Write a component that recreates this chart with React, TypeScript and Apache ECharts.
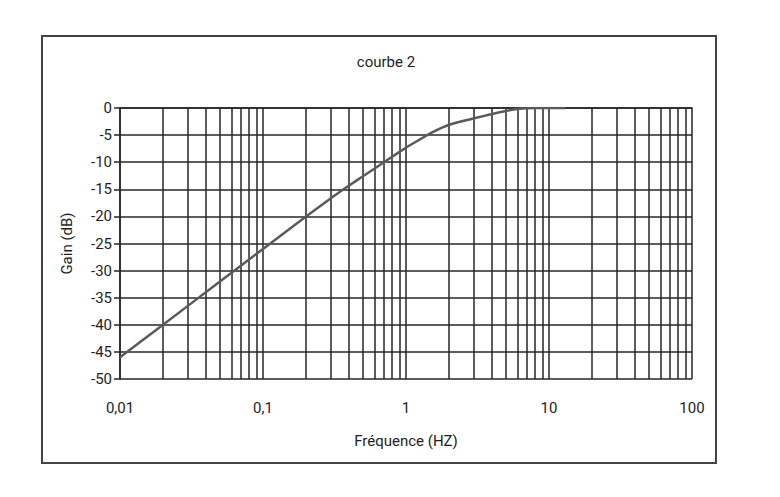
import React, { useEffect, useRef } from "react";
import * as echarts from "echarts";

const freqs = [0.01, 0.02, 0.05, 0.1, 0.2, 0.3, 0.4, 0.5, 0.6, 0.7, 0.8, 0.9, 1, 1.25, 1.5, 2, 3, 4, 5, 6, 8, 13];
const gains = [-46, -40, -32, -26, -20, -16.6, -14.3, -12.6, -11.2, -10.0, -9.0, -8.1, -7.3, -5.8, -4.6, -3.1, -1.9, -1.1, -0.55, -0.2, 0, 0];
const minorFreqs = [
  0.02, 0.03, 0.04, 0.05, 0.06, 0.07, 0.08, 0.09,
  0.2, 0.3, 0.4, 0.5, 0.6, 0.7, 0.8, 0.9,
  2, 3, 4, 5, 6, 7, 8, 9,
  20, 30, 40, 50, 60, 70, 80, 90,
];
const xTickLabels: Record<string, string> = { "0.01": "0,01", "0.1": "0,1", "1": "1", "10": "10", "100": "100" };
const titleText = "courbe 2";
const xName = "Fréquence (HZ)";
const yName = "Gain (dB)";

const FONT = "Roboto, 'DejaVu Sans', sans-serif";
const GRID = "#262626";
const TXT = "#1e1e1e";

export default function App() {
  const ref = useRef<HTMLDivElement>(null);
  useEffect(() => {
    if (!ref.current) return;
    const chart = echarts.init(ref.current, undefined, { renderer: "svg" });
    chart.setOption({
      animation: false,
      backgroundColor: "#fff",
      title: {
        text: titleText,
        left: 381,
        top: 49,
        textAlign: "center",
        textStyle: { fontFamily: FONT, fontSize: 15, fontWeight: "normal", color: TXT },
      },
      graphic: [
        {
          type: "rect",
          shape: { x: 42, y: 36, width: 674, height: 427 },
          style: { fill: "none", stroke: "#444", lineWidth: 2 },
          silent: true,
        },
      ],
      grid: { left: 120, right: 88, top: 108, bottom: 118, containLabel: false },
      xAxis: {
        type: "log",
        logBase: 10,
        min: 0.01,
        max: 100,
        name: xName,
        nameLocation: "middle",
        nameGap: 54,
        nameTextStyle: { fontFamily: FONT, fontSize: 15, color: TXT },
        axisLine: { show: true, lineStyle: { color: GRID, width: 1.5 } },
        axisTick: { show: false },
        axisLabel: {
          fontFamily: FONT,
          fontSize: 15,
          color: TXT,
          margin: 21,
          formatter: (v: number) => {
            const k = String(Number(v.toPrecision(6)));
            return xTickLabels[k] ?? k;
          },
        },
        splitLine: { show: true, lineStyle: { color: GRID, width: 1.5 } },
      },
      yAxis: {
        type: "value",
        min: -50,
        max: 0,
        interval: 5,
        name: yName,
        nameLocation: "middle",
        nameGap: 46,
        nameTextStyle: { fontFamily: FONT, fontSize: 15, color: TXT },
        axisLine: { show: true, lineStyle: { color: GRID, width: 1.5 } },
        axisTick: { show: true, length: 6, lineStyle: { color: GRID, width: 1.5 } },
        axisLabel: { fontFamily: FONT, fontSize: 15, color: TXT, margin: 8 },
        splitLine: { show: true, lineStyle: { color: GRID, width: 1.5 } },
      },
      series: [
        {
          type: "line",
          data: freqs.map((f, i) => [f, gains[i]]),
          showSymbol: false,
          symbol: "none",
          smooth: 0.2,
          lineStyle: { color: "#5a5a5a", width: 2.5 },
          z: 5,
          markLine: {
            silent: true,
            symbol: "none",
            label: { show: false },
            lineStyle: { color: GRID, width: 1.5, type: "solid" },
            data: minorFreqs.map((f) => ({ xAxis: f })),
            z: 1,
          },
        },
      ],
    });
    return () => chart.dispose();
  }, []);
  return <div ref={ref} style={{ position: "fixed", left: 0, top: 0, width: 780, height: 497 }} />;
}
